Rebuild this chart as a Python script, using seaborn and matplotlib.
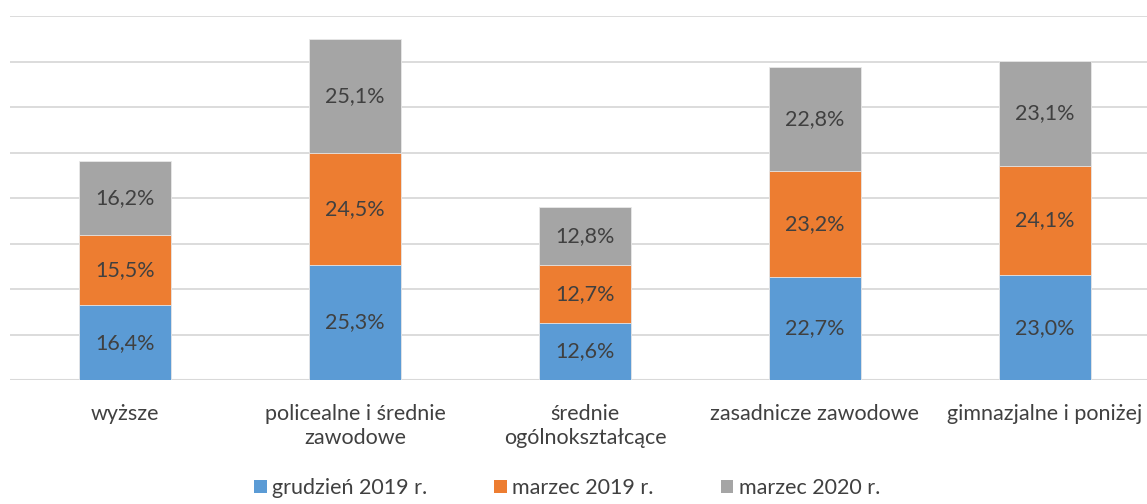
import numpy as np
import pandas as pd
import matplotlib
matplotlib.use("Agg")
import matplotlib.pyplot as plt
from matplotlib.patches import Patch
import seaborn as sns

categories = ["wyższe", "policealne i średnie\nzawodowe", "średnie\nogólnokształcące",
              "zasadnicze zawodowe", "gimnazjalne i poniżej"]
series_names = ["grudzień 2019 r.", "marzec 2019 r.", "marzec 2020 r."]
grudzien_2019 = [16.4, 25.3, 12.6, 22.7, 23.0]
marzec_2019 = [15.5, 24.5, 12.7, 23.2, 24.1]
marzec_2020 = [16.2, 25.1, 12.8, 22.8, 23.1]

colors = ["#5B9BD5", "#ED7D31", "#A5A5A5"]
text_color = "#404040"

sns.set_theme(style="white")
plt.rcParams["font.family"] = ["Lato", "DejaVu Sans"]

series = [grudzien_2019, marzec_2019, marzec_2020]
cum = np.cumsum(np.array(series), axis=0)

fig = plt.figure(figsize=(11.47, 5.04), dpi=100)
W, H = 1147, 504
left_px, right_px, top_px, bottom_px = 10, 1160, 16, 380
ax = fig.add_axes([left_px / W, 1 - bottom_px / H, (right_px - left_px) / W, (bottom_px - top_px) / H])

# draw cumulative bars from tallest to shortest
for i in range(len(series) - 1, -1, -1):
    df = pd.DataFrame({"cat": categories, "val": cum[i]})
    sns.barplot(data=df, x="cat", y="val", color=colors[i], width=0.4, saturation=1,
                edgecolor="#E8E8E8", linewidth=0.6, ax=ax, zorder=2)

for i, s in enumerate(series):
    base = cum[i] - np.array(s)
    for j, v in enumerate(s):
        ax.text(j, base[j] + v / 2, f"{v:.1f}%".replace(".", ","), ha="center", va="center",
                fontsize=15.5, color=text_color, zorder=3)

ax.set_ylim(0, 80)
ax.set_xlim(-0.5, 4.5)
ax.set_yticks(np.arange(0, 81, 10))
ax.set_yticklabels([])
ax.yaxis.grid(True, color="#D9D9D9", linewidth=1.3, zorder=0)
ax.set_axisbelow(True)
for sp in ax.spines.values():
    sp.set_visible(False)
ax.axhline(0, color="#D9D9D9", linewidth=1.5, zorder=1)
ax.set_xlabel("")
ax.set_ylabel("")
ax.tick_params(axis="x", length=0, pad=17, labelsize=15.5, labelcolor=text_color)
for lbl in ax.get_xticklabels():
    lbl.set_linespacing(1.25)
ax.tick_params(axis="y", length=0)

handles = [Patch(facecolor=c, edgecolor="none") for c in colors]
fig.legend(handles, series_names, loc="center", bbox_to_anchor=(567 / W, 1 - 488 / H),
           ncol=3, frameon=False, fontsize=15.5, labelcolor=text_color,
           handlelength=0.6, handleheight=0.6, handletextpad=0.25, columnspacing=3.1)

fig.savefig("out.png", dpi=100)
